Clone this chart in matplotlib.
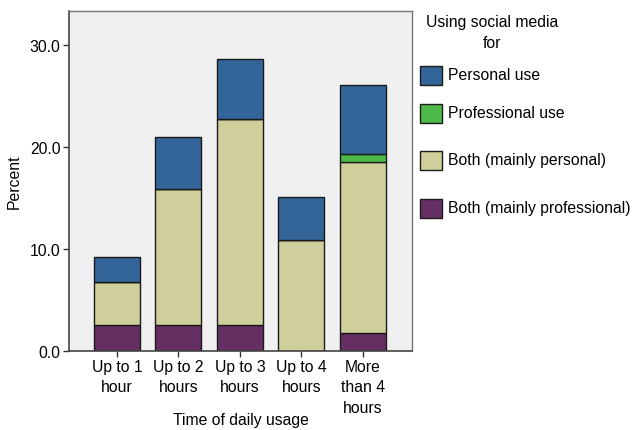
import matplotlib
matplotlib.use("Agg")
import matplotlib.pyplot as plt
from matplotlib.patches import Rectangle
import numpy as np

plt.rcParams['font.family'] = ['Liberation Sans', 'DejaVu Sans']

# data (percent)
categories = ["Up to 1\nhour", "Up to 2\nhours", "Up to 3\nhours", "Up to 4\nhours", "More\nthan 4\nhours"]
both_professional = [2.5, 2.5, 2.5, 0.0, 1.7]
both_personal = [4.2, 13.4, 20.2, 10.9, 16.8]
professional_use = [0.0, 0.0, 0.0, 0.0, 0.8]
personal_use = [2.5, 5.0, 5.9, 4.2, 6.7]

series = [
    ("Both (mainly professional)", both_professional, "#652f62"),
    ("Both (mainly personal)", both_personal, "#cfcf9c"),
    ("Professional use", professional_use, "#4cb948"),
    ("Personal use", personal_use, "#336598"),
]

W, H = 634, 431
fs = 11.3
fig = plt.figure(figsize=(W / 100, H / 100), dpi=100)
ax = fig.add_axes([69 / W, 1 - 351.7 / H, 343 / W, 339.7 / H])
ax.set_facecolor("#f0f0f0")

x = np.arange(len(categories))
bottom = np.zeros(len(categories))
for name, vals, col in series:
    vals = np.array(vals)
    ax.bar(x, vals, 0.75, bottom=bottom, color=col, edgecolor="#1a1a1a", linewidth=1.0, label=name)
    bottom += vals

ax.set_xlim(-0.78, 4.8)
ax.set_ylim(0, 33.3)
ax.set_yticks([0, 10, 20, 30])
ax.set_yticklabels(["0.0", "10.0", "20.0", "30.0"])
ax.set_xticks(x)
ax.set_xticklabels(categories, linespacing=1.45)
ax.tick_params(axis="both", labelsize=fs, length=4, width=1, color="#333333", pad=2)
ax.set_ylabel("Percent", fontsize=fs, labelpad=6)
ax.set_xlabel("Time of daily usage", fontsize=fs, labelpad=-2)

for s in ["left", "bottom"]:
    ax.spines[s].set_color("#444444")
    ax.spines[s].set_linewidth(1.2)
for s in ["top", "right"]:
    ax.spines[s].set_color("#777777")
    ax.spines[s].set_linewidth(1.0)

# legend drawn by hand so the uneven row spacing matches
fig.text(492 / W, 1 - 33 / H, "Using social media\nfor", ha="center", va="center",
         fontsize=fs, linespacing=1.45)
rows_y = [76, 114, 161, 209]
for (name, _, col), yc in zip(series[::-1], rows_y):
    fig.patches.append(Rectangle((420 / W, 1 - (yc + 9.5) / H), 22 / W, 19 / H,
                                 facecolor=col, edgecolor="#1a1a1a", linewidth=1.0,
                                 transform=fig.transFigure))
    fig.text(448 / W, 1 - yc / H, name, ha="left", va="center", fontsize=fs)

fig.savefig("out.png", dpi=100)
